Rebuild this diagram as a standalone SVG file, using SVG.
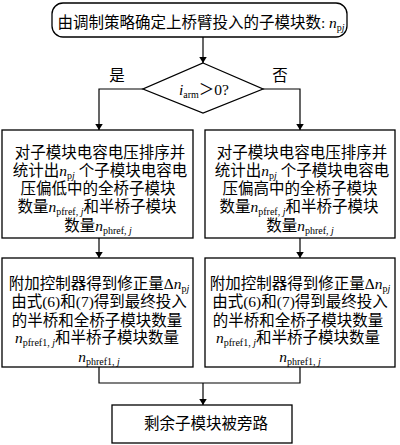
<svg xmlns="http://www.w3.org/2000/svg" width="400" height="445" viewBox="0 0 400 445">
<defs>
<style>
.b{fill:#fff;stroke:#000;stroke-width:1.3}
.t{font-family:"Liberation Serif","Noto Sans CJK SC",serif;font-size:15.5px;fill:#000;text-anchor:middle}
.s{font-size:10px}
.i{font-style:italic}
.c{fill:none;stroke:#000;stroke-width:1.2}
</style>
<marker id="a" viewBox="0 0 8 10" refX="8" refY="5" markerWidth="6" markerHeight="7.5" orient="auto" markerUnits="userSpaceOnUse">
<path d="M0,0 L8,5 L0,10 z" fill="#000"/>
</marker>
</defs>
<rect width="400" height="445" fill="#fff"/>
<g id="connectors">
<path class="c" d="M203,37 V63" marker-end="url(#a)"/>
<path class="c" d="M143,89 H99 V130" marker-end="url(#a)"/>
<path class="c" d="M263,89 H300 V130" marker-end="url(#a)"/>
<path class="c" d="M99,238 V258" marker-end="url(#a)"/>
<path class="c" d="M300,238 V258" marker-end="url(#a)"/>
<path class="c" d="M99,367 V383 H300 V367"/>
<path class="c" d="M203,383 V405" marker-end="url(#a)"/>
</g>
<g id="start">
<rect class="b" x="52" y="3" width="295" height="34" rx="11"/>
<text class="t" x="201" y="28">由调制策略确定上桥臂投入的子模块数: <tspan class="i">n</tspan><tspan class="s" dy="3">p</tspan><tspan class="s i">j</tspan></text>
</g>
<g id="decision">
<path class="b" d="M203,63 L263,89 L203,113 L143,89 Z"/>
<text class="t" x="204" y="95"><tspan class="i">i</tspan><tspan class="s" dy="3">arm</tspan><tspan dy="-3">＞0?</tspan></text>
<text class="t" x="117" y="81">是</text>
<text class="t" x="280" y="81">否</text>
</g>
<g id="sortLow">
<rect class="b" x="2" y="130" width="191" height="108"/>
<text class="t" x="100" y="158">对子模块电容电压排序并</text>
<text class="t" x="100" y="176">统计出<tspan class="i">n</tspan><tspan class="s" dy="2.5">p</tspan><tspan class="s i">j</tspan><tspan dy="-2.5"> 个子模块电容电</tspan></text>
<text class="t" x="98" y="194">压偏低中的全桥子模块</text>
<text class="t" x="97" y="212">数量<tspan class="i">n</tspan><tspan class="s" dy="2.5">pfref, </tspan><tspan class="s i">j</tspan><tspan dy="-2.5">和半桥子模块</tspan></text>
<text class="t" x="98" y="231">数量<tspan class="i">n</tspan><tspan class="s" dy="2.5">phref, </tspan><tspan class="s i">j</tspan></text>
</g>
<g id="sortHigh">
<rect class="b" x="205" y="130" width="190" height="108"/>
<text class="t" x="302" y="158">对子模块电容电压排序并</text>
<text class="t" x="302" y="176">统计出<tspan class="i">n</tspan><tspan class="s" dy="2.5">p</tspan><tspan class="s i">j</tspan><tspan dy="-2.5"> 个子模块电容电</tspan></text>
<text class="t" x="300" y="194">压偏高中的全桥子模块</text>
<text class="t" x="299" y="212">数量<tspan class="i">n</tspan><tspan class="s" dy="2.5">pfref, </tspan><tspan class="s i">j</tspan><tspan dy="-2.5">和半桥子模块</tspan></text>
<text class="t" x="300" y="231">数量<tspan class="i">n</tspan><tspan class="s" dy="2.5">phref, </tspan><tspan class="s i">j</tspan></text>
</g>
<g id="ctrlLeft">
<rect class="b" x="2" y="258" width="191" height="109"/>
<text class="t" x="99" y="289">附加控制器得到修正量Δ<tspan class="i">n</tspan><tspan class="s" dy="2.5">p</tspan><tspan class="s i">j</tspan></text>
<text class="t" x="99" y="307">由式(6)和(7)得到最终投入</text>
<text class="t" x="97" y="326">的半桥和全桥子模块数量</text>
<text class="t" x="97" y="343"><tspan class="i">n</tspan><tspan class="s" dy="2.5">pfref1, </tspan><tspan class="s i">j</tspan><tspan dy="-2.5">和半桥子模块数量</tspan></text>
<text class="t" x="99" y="362"><tspan class="i">n</tspan><tspan class="s" dy="2.5">phref1, </tspan><tspan class="s i">j</tspan></text>
</g>
<g id="ctrlRight">
<rect class="b" x="205" y="258" width="190" height="109"/>
<text class="t" x="300" y="289">附加控制器得到修正量Δ<tspan class="i">n</tspan><tspan class="s" dy="2.5">p</tspan><tspan class="s i">j</tspan></text>
<text class="t" x="300" y="307">由式(6)和(7)得到最终投入</text>
<text class="t" x="298" y="326">的半桥和全桥子模块数量</text>
<text class="t" x="298" y="343"><tspan class="i">n</tspan><tspan class="s" dy="2.5">pfref1, </tspan><tspan class="s i">j</tspan><tspan dy="-2.5">和半桥子模块数量</tspan></text>
<text class="t" x="300" y="362"><tspan class="i">n</tspan><tspan class="s" dy="2.5">phref1, </tspan><tspan class="s i">j</tspan></text>
</g>
<g id="bypass">
<rect class="b" x="112" y="405" width="180" height="38"/>
<text class="t" x="206" y="429">剩余子模块被旁路</text>
</g>
</svg>
